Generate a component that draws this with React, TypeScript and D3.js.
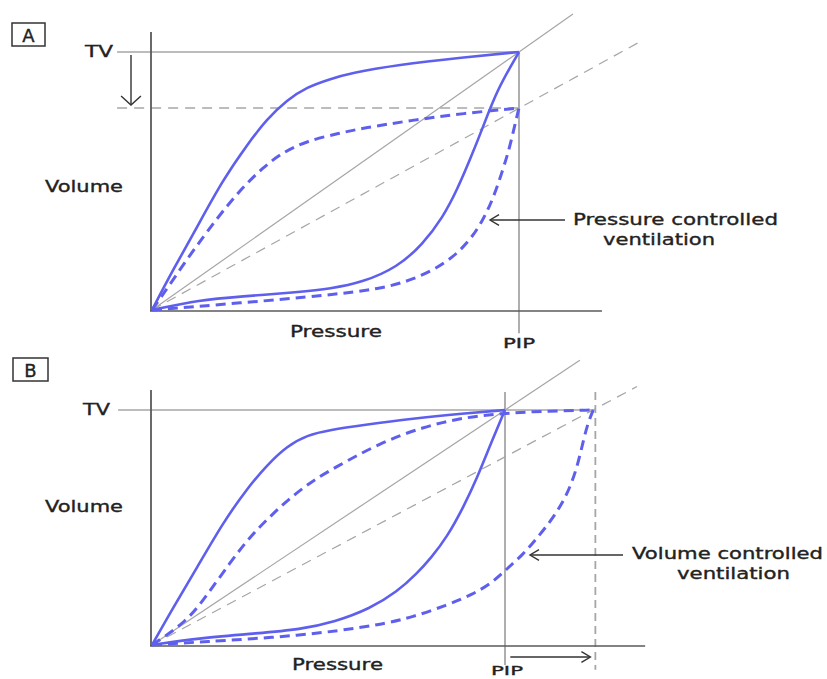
import React from "react";
import * as d3 from "d3";

type Pt = [number, number];

// ---------- text ----------
const panelLabels = ["A", "B"];
const volumeLabel = "Volume";
const pressureLabel = "Pressure";
const tvLabel = "TV";
const pipLabel = "PIP";
const annotationA = ["Pressure controlled", "ventilation"];
const annotationB = ["Volume controlled", "ventilation"];

// ---------- data: (pressure relative to PIP, volume relative to TV) ----------
const aUpperSolid: Pt[] = [
  [0, 0], [0.057, 0.155], [0.123, 0.322], [0.193, 0.504], [0.259, 0.64], [0.313, 0.74],
  [0.368, 0.814], [0.422, 0.864], [0.485, 0.895], [0.54, 0.918], [0.668, 0.95], [0.847, 0.979], [1, 1],
];
const aLowerSolid: Pt[] = [
  [0, 0], [0.131, 0.039], [0.24, 0.052], [0.403, 0.07], [0.485, 0.082], [0.575, 0.108], [0.668, 0.165],
  [0.738, 0.255], [0.793, 0.36], [0.831, 0.465], [0.866, 0.581], [0.902, 0.709], [0.94, 0.853], [1, 1],
];
const aUpperDashed: Pt[] = [
  [0, 0], [0.03, 0.06], [0.104, 0.215], [0.177, 0.355], [0.24, 0.465], [0.302, 0.552], [0.357, 0.612],
  [0.422, 0.655], [0.512, 0.686], [0.575, 0.705], [0.711, 0.736], [0.847, 0.762], [1, 0.783],
];
const aLowerDashed: Pt[] = [
  [0, 0], [0.24, 0.027], [0.485, 0.058], [0.621, 0.082], [0.711, 0.116], [0.804, 0.182], [0.866, 0.268],
  [0.902, 0.349], [0.929, 0.43], [0.956, 0.543], [0.975, 0.632], [0.989, 0.72], [1, 0.783],
];

const bUpperSolid: Pt[] = [
  [0, 0], [0.059, 0.157], [0.127, 0.328], [0.201, 0.52], [0.269, 0.665], [0.326, 0.766], [0.382, 0.846],
  [0.439, 0.893], [0.504, 0.915], [0.598, 0.936], [0.739, 0.964], [0.881, 0.985], [1, 1],
];
const bLowerSolid: Pt[] = [
  [0, 0], [0.136, 0.03], [0.3, 0.05], [0.419, 0.066], [0.518, 0.098], [0.618, 0.155], [0.694, 0.226],
  [0.751, 0.305], [0.79, 0.37], [0.836, 0.46], [0.881, 0.583], [0.921, 0.711], [0.958, 0.851], [1, 1],
];
const bUpperDashed: Pt[] = [
  [0, 0], [0.099, 0.1], [0.156, 0.213], [0.221, 0.35], [0.278, 0.462], [0.343, 0.56], [0.399, 0.635],
  [0.456, 0.7], [0.518, 0.755], [0.646, 0.86], [0.768, 0.928], [0.881, 0.968], [1, 0.987],
  [1.127, 0.996], [1.25, 1],
];
const bLowerDashed: Pt[] = [
  [0, 0], [0.136, 0.013], [0.419, 0.038], [0.646, 0.085], [0.739, 0.119], [0.836, 0.17], [0.909, 0.215],
  [0.966, 0.268], [1.006, 0.325], [1.051, 0.385], [1.091, 0.455], [1.136, 0.54], [1.176, 0.638],
  [1.204, 0.753], [1.221, 0.864], [1.235, 0.945], [1.25, 1],
];

// reference lines (slopes through loop tips)
const aComplianceEnds: Pt[] = [[0, 0], [1.147, 1.147]];
const aReducedComplianceEnds: Pt[] = [[0, 0], [1.33, 1.04]];
const bComplianceEnds: Pt[] = [[0, 0], [1.212, 1.212]];
const bReducedComplianceEnds: Pt[] = [[0, 0], [1.374, 1.1]];

const blue = "#5f5fee";
const gray = "#a6a6a6";
const axisCol = "#5a5a5a";
const textCol = "#222";
const font = "'DejaVu Sans', Verdana, sans-serif";

function Chevron({ x, y, dir, size = 9 }: { x: number; y: number; dir: "left" | "right" | "down"; size?: number }) {
  let d = "";
  if (dir === "left") d = `M${x + size},${y - size * 0.6} L${x},${y} L${x + size},${y + size * 0.6}`;
  if (dir === "right") d = `M${x - size},${y - size * 0.6} L${x},${y} L${x - size},${y + size * 0.6}`;
  if (dir === "down") d = `M${x - size * 1.1},${y - size} L${x},${y} L${x + size * 1.1},${y - size}`;
  return <path d={d} fill="none" stroke="#333" strokeWidth={1.4} />;
}

function T({ x, y, w, children, size = 16, anchor = "start" }: any) {
  return (
    <text x={x} y={y} fontSize={size} fontFamily={font} fill={textCol} stroke={textCol} strokeWidth={0.35}
      textAnchor={anchor} textLength={w} lengthAdjust="spacingAndGlyphs">{children}</text>
  );
}

export default function App() {
  // Panel A scales
  const xA = d3.scaleLinear().domain([0, 1]).range([152, 519]);
  const yA = d3.scaleLinear().domain([0, 1]).range([310, 52]);
  // Panel B scales
  const xB = d3.scaleLinear().domain([0, 1]).range([152, 505]);
  const yB = d3.scaleLinear().domain([0, 1]).range([645, 410]);

  const curve = (x: any, y: any) =>
    d3.line<Pt>().x((d) => x(d[0])).y((d) => y(d[1])).curve(d3.curveBasis);
  const straight = (x: any, y: any) => d3.line<Pt>().x((d) => x(d[0])).y((d) => y(d[1]));

  const lA = curve(xA, yA);
  const lB = curve(xB, yB);
  const sA = straight(xA, yA);
  const sB = straight(xB, yB);

  const solidBlue = { fill: "none", stroke: blue, strokeWidth: 2.6, strokeLinejoin: "round" as const };
  const dashedBlue = { fill: "none", stroke: blue, strokeWidth: 3, strokeDasharray: "10,6" };

  return (
    <svg width={827} height={679} style={{ position: "absolute", left: 0, top: 0, background: "#fff" }}>
      {/* ================= Panel A ================= */}
      <rect x={12} y={23} width={33} height={23} fill="none" stroke="#333" strokeWidth={1.5} />
      <T x={28.5} y={42} size={18} anchor="middle">{panelLabels[0]}</T>

      <path d={sA(aComplianceEnds)!} stroke={gray} strokeWidth={1.2} fill="none" />
      <path d={sA(aReducedComplianceEnds)!} stroke={gray} strokeWidth={1.2} fill="none" strokeDasharray="10,7" />
      <line x1={xA(-0.095)} x2={xA(1)} y1={yA(1)} y2={yA(1)} stroke={gray} strokeWidth={1.4} />
      <line x1={xA(-0.095)} x2={xA(1)} y1={yA(0.783)} y2={yA(0.783)} stroke={gray} strokeWidth={1.4} strokeDasharray="10,7" />
      <line x1={xA(1)} x2={xA(1)} y1={yA(1)} y2={yA(-0.09)} stroke={gray} strokeWidth={1.8} />

      <line x1={151} x2={151} y1={yA(1.078)} y2={yA(-0.004)} stroke={axisCol} strokeWidth={1.8} />
      <line x1={150} x2={xA(1.226)} y1={yA(-0.004)} y2={yA(-0.004)} stroke={axisCol} strokeWidth={1.6} />

      <path d={lA(aUpperSolid)!} {...solidBlue} />
      <path d={lA(aLowerSolid)!} {...solidBlue} />
      <path d={lA(aUpperDashed)!} {...dashedBlue} />
      <path d={lA(aLowerDashed)!} {...dashedBlue} />

      <line x1={131} x2={131} y1={55} y2={104} stroke="#333" strokeWidth={1.4} />
      <Chevron x={131} y={105} dir="down" />

      <T x={113} y={57} w={28} anchor="end">{tvLabel}</T>
      <T x={45} y={192} w={78}>{volumeLabel}</T>
      <T x={290} y={337} w={92}>{pressureLabel}</T>
      <T x={503} y={348} w={32} size={14}>{pipLabel}</T>

      <line x1={491} x2={565} y1={220} y2={220} stroke="#333" strokeWidth={1.4} />
      <Chevron x={490} y={220} dir="left" />
      <T x={573} y={225} w={205}>{annotationA[0]}</T>
      <T x={603} y={245} w={112}>{annotationA[1]}</T>

      {/* ================= Panel B ================= */}
      <rect x={13} y={358} width={35} height={23} fill="none" stroke="#333" strokeWidth={1.5} />
      <T x={30.5} y={377} size={18} anchor="middle">{panelLabels[1]}</T>

      <path d={sB(bComplianceEnds)!} stroke={gray} strokeWidth={1.2} fill="none" />
      <path d={sB(bReducedComplianceEnds)!} stroke={gray} strokeWidth={1.2} fill="none" strokeDasharray="10,7" />
      <line x1={xB(-0.096)} x2={xB(1.25)} y1={yB(1)} y2={yB(1)} stroke={gray} strokeWidth={1.4} />
      <line x1={xB(1)} x2={xB(1)} y1={yB(1.077)} y2={yB(-0.085)} stroke={gray} strokeWidth={1.8} />
      <line x1={xB(1.256)} x2={xB(1.256)} y1={yB(1.077)} y2={yB(-0.105)} stroke={gray} strokeWidth={1.8} strokeDasharray="8,5" />

      <line x1={151} x2={151} y1={yB(1.085)} y2={yB(-0.004)} stroke={axisCol} strokeWidth={1.8} />
      <line x1={150} x2={xB(1.397)} y1={yB(-0.004)} y2={yB(-0.004)} stroke={axisCol} strokeWidth={1.6} />

      <path d={lB(bUpperSolid)!} {...solidBlue} />
      <path d={lB(bLowerSolid)!} {...solidBlue} />
      <path d={lB(bUpperDashed)!} {...dashedBlue} />
      <path d={lB(bLowerDashed)!} {...dashedBlue} />

      <T x={110} y={415} w={27} anchor="end">{tvLabel}</T>
      <T x={45} y={512} w={78}>{volumeLabel}</T>
      <T x={292} y={670} w={91}>{pressureLabel}</T>
      <T x={491} y={675} w={32} size={13}>{pipLabel}</T>

      <line x1={xB(1.015)} x2={xB(1.24)} y1={657} y2={657} stroke="#333" strokeWidth={1.4} />
      <Chevron x={xB(1.242)} y={657} dir="right" />

      <line x1={531} x2={623} y1={555} y2={555} stroke="#333" strokeWidth={1.4} />
      <Chevron x={530} y={555} dir="left" />
      <T x={632} y={559} w={191} size={15}>{annotationB[0]}</T>
      <T x={677} y={579} w={113} size={15}>{annotationB[1]}</T>
    </svg>
  );
}
